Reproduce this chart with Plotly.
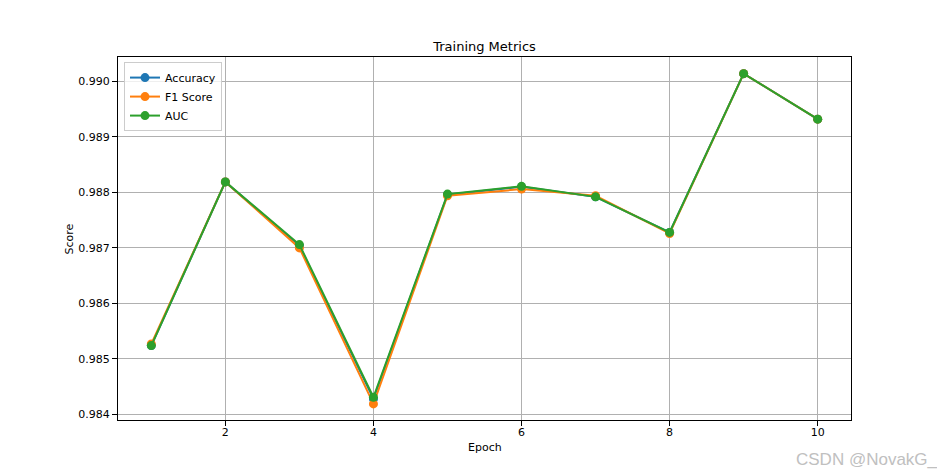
import plotly.graph_objects as go

# values
epochs = [1, 2, 3, 4, 5, 6, 7, 8, 9, 10]
accuracy = [0.98524, 0.98819, 0.98704, 0.98428, 0.98796, 0.98810, 0.98792, 0.98728, 0.99014, 0.98932]
f1_score = [0.98527, 0.98819, 0.98700, 0.98419, 0.98794, 0.98806, 0.98794, 0.98726, 0.99014, 0.98932]
auc = [0.98524, 0.98819, 0.98706, 0.98431, 0.98797, 0.98811, 0.98792, 0.98728, 0.99014, 0.98932]

x_ticks = [2, 4, 6, 8, 10]
y_ticks = [0.984, 0.985, 0.986, 0.987, 0.988, 0.989, 0.990]

fig = go.Figure()
for name, vals, color in [('Accuracy', accuracy, '#1f77b4'),
                          ('F1 Score', f1_score, '#ff7f0e'),
                          ('AUC', auc, '#2ca02c')]:
    fig.add_trace(go.Scatter(x=epochs, y=vals, mode='lines+markers', name=name,
                             line=dict(color=color, width=2),
                             marker=dict(color=color, size=9)))

axis_style = dict(showline=True, mirror=True, linecolor='black', linewidth=1,
                  ticks='outside', ticklen=5, tickcolor='black',
                  showgrid=True, gridcolor='#b0b0b0', gridwidth=0.8,
                  zeroline=False, tickfont=dict(size=11, color='black'))

# page has an 8px body margin, so the figure is sized to fit the 945x472 window
fig.update_layout(
    width=937, height=464,
    margin=dict(l=110, r=94, t=49, b=52, autoexpand=False),
    paper_bgcolor='white', plot_bgcolor='white',
    font=dict(family='DejaVu Sans', size=11, color='black'),
    title=dict(text='Training Metrics', x=0.5, xanchor='center', xref='paper',
               y=1 - 38 / 464, yanchor='middle', font=dict(size=13)),
    xaxis=dict(range=[0.55, 10.45], tickvals=x_ticks, ticklabelstandoff=-3, **axis_style),
    yaxis=dict(range=[0.98390, 0.99044], tickvals=y_ticks, tickformat='.3f', **axis_style),
    legend=dict(x=0.0082, y=0.986, xanchor='left', yanchor='top', itemwidth=30,
                bgcolor='rgba(255,255,255,0.8)', bordercolor='#cccccc', borderwidth=1,
                font=dict(size=11)),
    showlegend=True,
)

# axis titles
fig.add_annotation(text='Epoch', xref='paper', yref='paper', x=0.5, y=-27 / 363,
                   xanchor='center', yanchor='middle', showarrow=False, font=dict(size=11))
fig.add_annotation(text='Score', xref='paper', yref='paper', x=-49 / 733, y=0.5,
                   xanchor='center', yanchor='middle', textangle=-90, showarrow=False,
                   font=dict(size=11))

# watermark in the corner
fig.add_annotation(text='CSDN @NovakG_', xref='paper', yref='paper',
                   x=822 / 733, y=-39 / 363, xanchor='right', yanchor='middle',
                   showarrow=False, font=dict(size=17, color='#c0c0c0', family='Liberation Sans'))

fig.write_html('out.html')
